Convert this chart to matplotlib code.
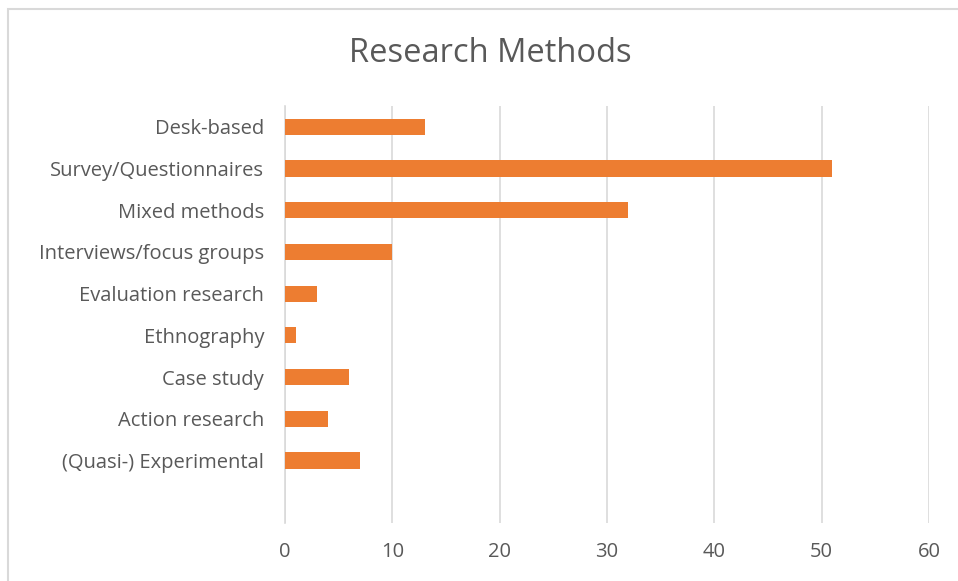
import matplotlib
matplotlib.use('Agg')
import matplotlib.pyplot as plt
from matplotlib.patches import Rectangle

# Chart data (top to bottom as shown)
methods = ['Desk-based', 'Survey/Questionnaires', 'Mixed methods',
           'Interviews/focus groups', 'Evaluation research', 'Ethnography',
           'Case study', 'Action research', '(Quasi-) Experimental']
counts = [13, 51, 32, 10, 3, 1, 6, 4, 7]
x_ticks = [0, 10, 20, 30, 40, 50, 60]

bar_color = '#ED7D31'
text_color = '#595959'
grid_color = '#D9D9D9'

plt.rcParams['font.family'] = ['Open Sans', 'DejaVu Sans']

fig = plt.figure(figsize=(9.58, 5.81), dpi=100)
fig.patch.set_facecolor('white')

# light chart border
fig.patches.append(Rectangle((8 / 958, -0.05), 1.2, 1 - 9 / 581 + 0.05,
                             transform=fig.transFigure, fill=False,
                             edgecolor='#D9D9D9', linewidth=1.5))

ax = fig.add_axes([285 / 958, 1 - 523 / 581, (929 - 285) / 958, (523 - 106) / 581])

positions = list(range(len(methods)))
ax.barh(positions, counts, height=0.39, color=bar_color, zorder=3)

ax.set_xlim(0, 60)
# one empty slot is left below the last category
ax.set_ylim(len(methods) + 0.5, -0.5)
ax.set_xticks(x_ticks)
ax.set_yticks(positions)
ax.set_yticklabels(methods)

ax.grid(axis='x', color=grid_color, linewidth=1.2, zorder=0)
for s in ['top', 'right', 'bottom']:
    ax.spines[s].set_visible(False)
ax.spines['left'].set_color(grid_color)
ax.spines['left'].set_linewidth(1.2)

ax.tick_params(axis='both', length=0, colors=text_color, labelsize=14.5)
ax.tick_params(axis='x', pad=14)
ax.tick_params(axis='y', pad=15)

fig.text(490 / 958, 1 - 54 / 581, 'Research Methods', ha='center', va='center',
         fontsize=23.5, color=text_color)

fig.savefig('out.png', dpi=100, facecolor='white')
